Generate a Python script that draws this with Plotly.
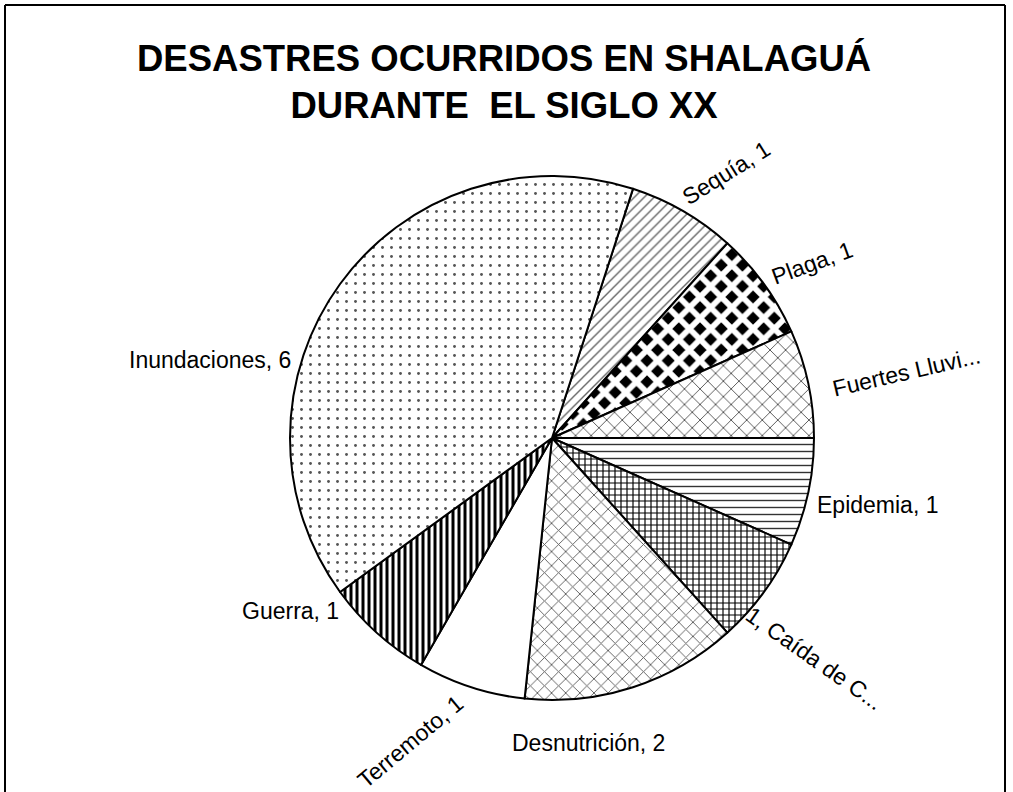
import plotly.graph_objects as go

# ---- data ----
labels = ["Sequía", "Plaga", "Fuertes Lluvias", "Epidemia", "Caída de Ceniza",
          "Desnutrición", "Terremoto", "Guerra", "Inundaciones"]
values = [1, 1, 1, 1, 1, 2, 1, 1, 6]
label_texts = ["Sequía, 1", "Plaga, 1", "Fuertes Lluvi...", "Epidemia, 1", "1, Caída de C...",
               "Desnutrición, 2", "Terremoto, 1", "Guerra, 1", "Inundaciones, 6"]
title_lines = ["DESASTRES OCURRIDOS EN SHALAGUÁ", "DURANTE&nbsp; EL SIGLO XX"]

# ---- styles ----
W, H = 1013, 792
FONT = "Liberation Sans, Arial, sans-serif"
pat_shape = ["/", "x", "x", "-", "+", "x", "", "|", "."]
pat_fg = ["#666666", "white", "#444444", "#333333", "black", "#555555", "black", "black", "#555555"]
pat_bg = ["white", "black", "white", "white", "white", "white", "white", "white", "white"]
pat_size = [7, 15, 11, 7, 6, 10, 8, 6, 9]
pat_sol = [0.2, 0.62, 0.15, 0.2, 0.35, 0.17, 0.2, 0.5, 0.08]


def px(x):
    return x / W


def py(y):
    return 1 - y / H


# pie geometry in screen pixels
cx, cy, r = 552, 438, 262

fig = go.Figure(go.Pie(
    labels=labels, values=values, sort=False, direction="clockwise", rotation=18,
    textinfo="none", hoverinfo="label+value",
    domain=dict(x=[px(cx - r), px(cx + r)], y=[py(cy + r), py(cy - r)]),
    marker=dict(
        colors=["white"] * len(values),
        line=dict(color="black", width=2),
        pattern=dict(shape=pat_shape, fgcolor=pat_fg, bgcolor=pat_bg,
                     size=pat_size, solidity=pat_sol, fillmode="replace"),
    ),
    showlegend=False,
))

# label placement (screen pixels) and text angle
lab_pos = [(726, 173), (812, 263), (906, 372), (877, 505), (814, 658),
           (588, 743), (410, 742), (290, 611), (210, 360)]
lab_ang = [-32, -20, -13, 0, 35, 0, -40, 0, 0]
for t, (lx, ly), a in zip(label_texts, lab_pos, lab_ang):
    fig.add_annotation(x=px(lx), y=py(ly), xref="paper", yref="paper",
                       text=t, showarrow=False, textangle=a,
                       xanchor="center", yanchor="middle",
                       font=dict(family=FONT, size=23, color="black"))

fig.add_annotation(x=px(504), y=py(82), xref="paper", yref="paper",
                   text="<b>" + title_lines[0] + "<br>" + title_lines[1] + "</b>",
                   showarrow=False, xanchor="center", yanchor="middle",
                   font=dict(family=FONT, size=36.5, color="black"))

# frame
for x0, y0, x1, y1 in [(5, 5, 1005, 5), (5, 5, 5, 800), (1005, 5, 1005, 800)]:
    fig.add_shape(type="line", xref="paper", yref="paper",
                  x0=px(x0), y0=py(y0), x1=px(x1), y1=py(y1),
                  line=dict(color="black", width=2))

fig.update_layout(width=W, height=H, margin=dict(l=0, r=0, t=0, b=0),
                  paper_bgcolor="white", plot_bgcolor="white")

fig.write_html("out.html", config={"displayModeBar": False},
               post_script="document.body.style.margin='0';document.body.style.overflow='hidden';")
